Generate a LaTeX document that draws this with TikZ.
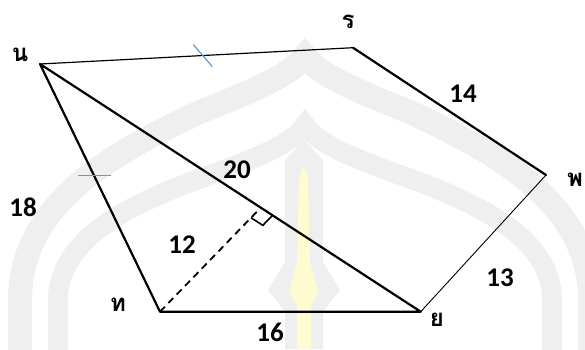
\documentclass[tikz,border=0pt]{standalone}
\usepackage{fontspec}
\setmainfont{Carlito}
\newfontfamily\thaifont[Script=Thai]{Loma}
\usetikzlibrary{calc}
\definecolor{wmgray}{HTML}{EFEFEF}
\definecolor{wmyellow}{HTML}{FFFBD0}
\definecolor{tickblue}{HTML}{5B9BD5}
\tikzset{
  thickedge/.style={line width=2.2pt, line cap=round, line join=round},
  thinedge/.style={line width=1.2pt, line cap=round},
  hairedge/.style={line width=0.9pt, line cap=round},
  tickmark/.style={draw=tickblue, line width=1.2pt},
  numlabel/.style={font=\fontsize{27}{29}\selectfont\bfseries, inner sep=0pt},
  thailabel/.style={font=\thaifont\fontsize{24}{26}\selectfont\bfseries, inner sep=0pt},
  wmband/.style={draw=wmgray, line join=miter, miter limit=20}
}
\begin{document}
\begin{tikzpicture}[x=1pt,y=-1pt]
\useasboundingbox (0,0) rectangle (585,349);
% faint watermark
\begin{scope}
\clip (0,0) rectangle (585,349);
\draw[wmband, line width=24pt] (20,380) -- (20,300) .. controls (20,200) and (120,150) .. (200,112) .. controls (260,88) and (290,75) .. (305,56)
  .. controls (320,75) and (350,88) .. (410,112) .. controls (490,150) and (590,200) .. (590,300) -- (590,380);
\draw[wmband, line width=20pt] (58,380) -- (58,300) .. controls (58,235) and (140,200) .. (210,175) .. controls (265,155) and (292,143) .. (305,125)
  .. controls (318,143) and (345,155) .. (400,175) .. controls (470,200) and (552,235) .. (552,300) -- (552,380);
\fill[wmgray] (304,140) -- (323,160) -- (323,262) -- (340,290) -- (323,312) -- (323,349) -- (285,349) -- (285,312) -- (268,290) -- (285,262) -- (285,160) -- cycle;
\fill[wmyellow] (303,165) -- (308,178) -- (310,262) -- (318,292) -- (311,305) -- (311,349) -- (297,349) -- (297,305) -- (289,292) -- (297,262) -- (299,178) -- cycle;
\end{scope}
% vertices
\coordinate (n) at (40,64);
\coordinate (r) at (353,47.7);
\coordinate (p) at (546,175);
\coordinate (y) at (420.7,311.7);
\coordinate (t) at (160,311.7);
\coordinate (f) at ($(n)!0.58!(y)$);
% edges
\draw[thinedge] (n) -- (r);
\draw[thickedge] (r) -- (p);
\draw[hairedge] (p) -- (y);
\draw[thickedge] (y) -- (t) -- (n) -- (y);
\draw[line width=1.8pt, dash pattern=on 7pt off 5pt] (t) -- (f);
% right angle mark
\coordinate (ra1) at ($(f)!14pt!(t)$);
\coordinate (ra3) at ($(f)!14pt!(y)$);
\draw[line width=1.6pt] (ra1) -- ($(ra1)+(ra3)-(f)$) -- (ra3);
% equal-length ticks
\coordinate (m1) at ($(n)!0.52!(r)$);
\draw[tickmark] ($(m1)+(-9.5,-11)$) -- ($(m1)+(9.5,11)$);
\coordinate (m2) at ($(n)!0.45!(t)$);
\draw[tickmark] ($(m2)+(-16.5,0)$) -- ($(m2)+(16.5,0)$);
% vertex labels
\node[thailabel] (ln) at (20,55) {น};
\node[thailabel] (lr) at (348,22) {ร};
\node[thailabel] (lp) at (575,180) {พ};
\node[thailabel] (lt) at (118,305) {ท};
\node[thailabel] (ly) at (437,320) {ย};
% length labels
\node[numlabel] (l20) at (237,170) {20};
\node[numlabel] (l14) at (463,94) {14};
\node[numlabel] (l18) at (23,207) {18};
\node[numlabel] (l12) at (182,245) {12};
\node[numlabel] (l16) at (270,332) {16};
\node[numlabel] (l13) at (500,278) {13};
\end{tikzpicture}
\end{document}
